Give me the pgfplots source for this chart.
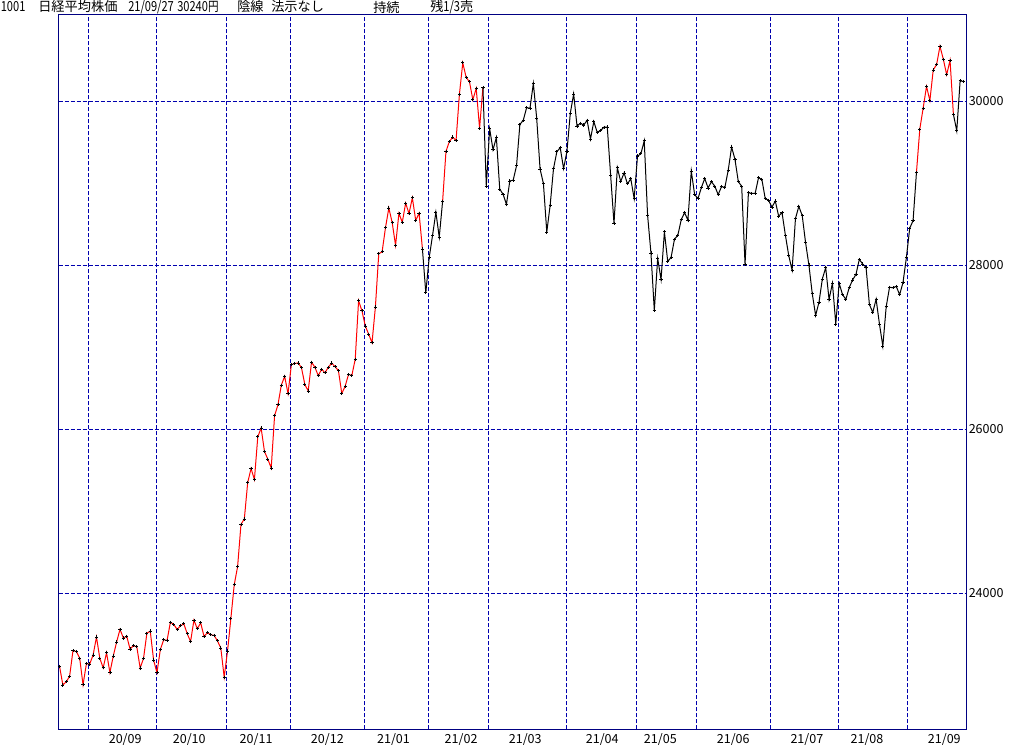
\documentclass[border=0pt]{standalone}
\usepackage{fontspec}
\setmainfont{Noto Sans CJK JP}
\newfontfamily\nd[FakeStretch=0.8]{Noto Sans CJK JP}
\usepackage{pgfplots}
\pgfplotsset{compat=1.18}
\usepackage{pgfplotstable}
\definecolor{navy}{RGB}{0,0,130}
\definecolor{gridblue}{RGB}{0,0,175}
\newcommand\f{\fontsize{9.4pt}{11pt}\selectfont}
\newcommand\fj{\fontsize{9.9pt}{11pt}\selectfont}
\newcommand\fd{\fontsize{10.4pt}{11pt}\selectfont\nd}
\pgfplotstableread{
x y
0 23111
1 22881
2 22920
3 22986
4 23297
5 23291
6 23209
7 22883
8 23140
9 23138
10 23247
11 23466
12 23205
13 23090
14 23274
15 23033
16 23235
17 23406
18 23559
19 23455
20 23476
21 23319
22 23360
23 23346
24 23088
25 23205
26 23512
27 23539
28 23185
29 23030
30 23312
31 23434
32 23423
33 23647
34 23620
35 23559
36 23602
37 23627
38 23507
39 23411
40 23671
41 23567
42 23639
43 23474
44 23517
45 23494
46 23486
47 23419
48 23332
49 22977
50 23295
51 23695
52 24105
53 24325
54 24840
55 24906
56 25350
57 25521
58 25386
59 25907
60 26015
61 25728
62 25634
63 25527
64 26166
65 26297
66 26537
67 26645
68 26434
69 26788
70 26801
71 26809
72 26751
73 26547
74 26467
75 26818
76 26756
77 26653
78 26732
79 26688
80 26757
81 26807
82 26763
83 26714
84 26436
85 26525
86 26668
87 26657
88 26854
89 27568
90 27444
91 27258
92 27159
93 27056
94 27490
95 28139
96 28164
97 28457
98 28698
99 28519
100 28242
101 28633
102 28523
103 28757
104 28631
105 28822
106 28546
107 28635
108 28197
109 27663
110 28091
111 28362
112 28647
113 28342
114 28779
115 29389
116 29506
117 29563
118 29520
119 30084
120 30468
121 30292
122 30236
123 30018
124 30156
125 29672
126 30168
127 28966
128 29664
129 29408
130 29559
131 28930
132 28864
133 28743
134 29028
135 29037
136 29212
137 29718
138 29767
139 29921
140 29914
141 30217
142 29792
143 29174
144 28996
145 28406
146 28730
147 29177
148 29385
149 29433
150 29179
151 29389
152 29854
153 30089
154 29697
155 29731
156 29709
157 29768
158 29539
159 29752
160 29621
161 29643
162 29683
163 29685
164 29100
165 28509
166 29188
167 29021
168 29126
169 28992
170 29054
171 28813
172 29331
173 29358
174 29518
175 28609
176 28148
177 27448
178 28084
179 27825
180 28407
181 28044
182 28098
183 28318
184 28365
185 28554
186 28642
187 28549
188 29149
189 28860
190 28814
191 28946
192 29058
193 28942
194 29019
195 28964
196 28861
197 28959
198 28949
199 29162
200 29441
201 29291
202 29018
203 28964
204 28011
205 28884
206 28875
207 28875
208 29066
209 29048
210 28813
211 28792
212 28707
213 28783
214 28598
215 28643
216 28367
217 28118
218 27940
219 28569
220 28718
221 28608
222 28279
223 28003
224 27653
225 27388
226 27548
227 27833
228 27970
229 27582
230 27782
231 27284
232 27781
233 27642
234 27584
235 27728
236 27820
237 27888
238 28071
239 28015
240 27977
241 27523
242 27424
243 27586
244 27281
245 27013
246 27494
247 27732
248 27725
249 27742
250 27641
251 27789
252 28090
253 28451
254 28544
255 29128
256 29660
257 29916
258 30181
259 30008
260 30382
261 30447
262 30670
263 30512
264 30323
265 30500
266 29840
267 29639
268 30249
269 30240
}\nikkei

\begin{document}
\begin{tikzpicture}
\useasboundingbox (0,0) rectangle (768pt,558.75pt);
\fill[white] (0,0) rectangle (768pt,558.75pt);
\begin{axis}[
  scale only axis, width=681pt, height=536.25pt,
  at={(43.875pt,11.625pt)}, anchor=south west,
  xmin=-0.3, xmax=269.9, ymin=22338.41, ymax=31057.93,
  axis line style={navy, line width=0.75pt},
  scaled x ticks=false, scaled y ticks=false,
  xtick={19.55,38.6,58.5,79.7,99.4,119.5,138.6,161.5,178.8,200.5,222.4,240.3,263.3},
  xticklabels={20/09,20/10,20/11,20/12,21/01,21/02,21/03,21/04,21/05,21/06,21/07,21/08,21/09},
  ytick={24000,26000,28000,30000},
  yticklabels={24000,26000,28000,30000},
  yticklabel pos=right,
  major tick length=0pt,
  ymajorgrids,
  extra x ticks={8.627,28.714,49.693,68.738,90.759,109.655,127.658,150.721,171.70,189.555,211.427,231.662,252.343},
  extra x tick labels={},
  extra x tick style={grid=major, major tick length=0pt},
  grid style={gridblue, line width=0.75pt, dash pattern=on 3pt off 1.5pt},
  tick label style={font=\f},
  xticklabel style={inner sep=0pt, anchor=north, yshift=-2.5pt},
  yticklabel style={inner sep=0pt, anchor=west, xshift=1.5pt},
]
\addplot[red, line width=0.75pt, no marks, restrict x to domain=0:108] table {\nikkei};
\addplot[black, line width=0.75pt, no marks, restrict x to domain=108:114] table {\nikkei};
\addplot[red, line width=0.75pt, no marks, restrict x to domain=114:126] table {\nikkei};
\addplot[black, line width=0.75pt, no marks, restrict x to domain=126:255] table {\nikkei};
\addplot[red, line width=0.75pt, no marks, restrict x to domain=255:266] table {\nikkei};
\addplot[black, line width=0.75pt, no marks, restrict x to domain=266:269] table {\nikkei};
\addplot[only marks, mark=+, mark size=1.2pt, mark options={black, line width=0.6pt}] table {\nikkei};
\end{axis}
\begin{scope}[every node/.style={anchor=west, inner sep=0pt}]
\node[font=\fd] at (0.4pt,553.5pt) {1001};
\node[font=\fj] at (28.5pt,553.5pt) {日経平均株価};
\node[font=\fd] at (96pt,553.5pt) {21/09/27};
\node[font=\fd] at (132.75pt,553.5pt) {30240\fj 円};
\node[font=\fj] at (177.75pt,553.5pt) {陰線};
\node[font=\fj] at (203.25pt,553.5pt) {法示なし};
\node[font=\fj] at (279.75pt,553.5pt) {持続};
\node[font=\fj] at (322.5pt,553.5pt) {残{\fd 1/3}売};
\end{scope}
\end{tikzpicture}
\end{document}
